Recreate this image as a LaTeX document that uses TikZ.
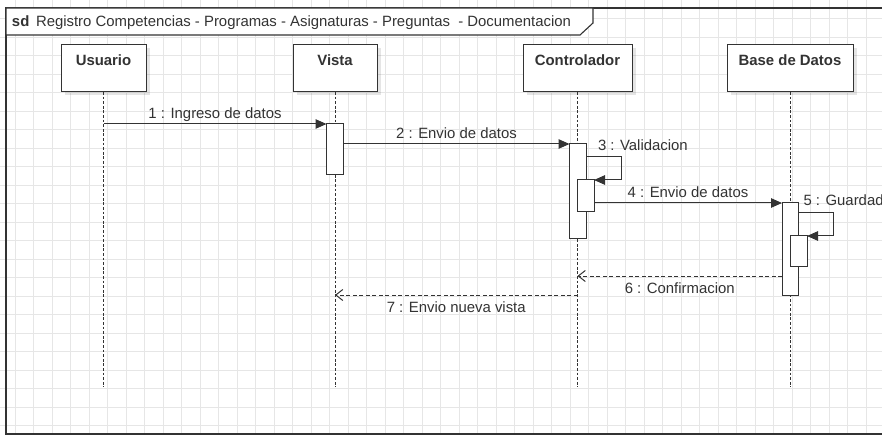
\documentclass[tikz,border=0pt]{standalone}
\usepackage{fontspec}
\setmainfont{Liberation Sans}
\usetikzlibrary{arrows.meta,shadows,calc}

\definecolor{ink}{HTML}{333333}
\definecolor{gridline}{HTML}{E6E6E6}

\begin{document}
\begin{tikzpicture}[x=1pt,y=-1pt,
  font=\fontsize{14.9}{17}\selectfont,
  every node/.style={inner sep=0pt, outer sep=0pt, text=ink},
  gridstroke/.style={draw=gridline, line width=0.9pt},
  frame/.style={draw=ink, line width=1.1pt},
  head/.style={draw=ink, line width=1pt, fill=white, anchor=north west,
    minimum height=47pt, text height=20.5pt, text depth=26.5pt,
    font=\fontsize{14.9}{17}\selectfont\bfseries,
    drop shadow={shadow xshift=3.5pt, shadow yshift=-3.5pt, fill=black, opacity=0.10}},
  lifeline/.style={draw=ink, line width=1pt, dash pattern=on 2.8pt off 1.8pt},
  act/.style={draw=ink, line width=1pt, fill=white, anchor=north west, minimum width=16.5pt},
  msg/.style={draw=ink, line width=1pt, -{Triangle[length=11pt,width=9.5pt]}},
  ret/.style={draw=ink, line width=1pt, dash pattern=on 4pt off 2.5pt,
    -{Straight Barb[length=7pt,width=11pt,line width=1pt]}},
  above label/.style={anchor=base, yshift=5.3pt},
  below label/.style={anchor=base, yshift=-17.3pt},
]
\useasboundingbox (0,0) rectangle (882,435);
\clip (0,0) rectangle (882,435);

% background grid
\foreach \i in {0,...,47}
  \draw[gridstroke] ({15.3+18.5*\i},0) -- ++(0,435);
\foreach \j in {1,...,23}
  \draw[gridstroke] (0,{18.5*\j}) -- ++(882,0);

% interaction frame with its name tab
\draw[frame] (6,8) rectangle (900,434);
\draw[frame, fill=white] (6,8) -- (593,8) -- (593,23) -- (580,35) -- (6,35) -- cycle;
\node[anchor=base west, font=\fontsize{14.9}{17}\selectfont\bfseries] (sd) at (12,27) {sd};
\node[anchor=base west] (title) at (36,27)
  {Registro Competencias - Programas - Asignaturas - Preguntas\ \ - Documentacion};

% participants
\node[head, minimum width=85pt]  (usuario) at (61,45)  {Usuario};
\node[head, minimum width=84pt]  (vista)   at (293,45) {Vista};
\node[head, minimum width=109pt] (ctrl)    at (523,45) {Controlador};
\node[head, minimum width=126pt] (bd)      at (727,45) {Base de Datos};

% lifelines
\draw[lifeline] (usuario.south) -- ++(0,295);
\draw[lifeline] (vista.south)   -- ++(0,295);
\draw[lifeline] (ctrl.south)    -- ++(0,295);
\draw[lifeline] (bd.south)      -- ++(0,295);

% activation bars
\node[act, minimum width=17pt, minimum height=51pt] (av)  at (326.5,124) {};
\node[act, minimum height=95pt]                     (ac)  at (569.5,144) {};
\node[act, minimum height=32pt]                     (ac2) at (577.5,180) {};
\node[act, minimum height=92pt]                     (ab)  at (782,203)   {};
\node[act, minimum height=31pt]                     (ab2) at (790.5,236) {};

% 1 : user enters data
\draw[msg] (usuario.south |- av.north west) -- (av.north west)
  node[midway, above label] {1 : Ingreso de datos};

% 2 : view forwards data
\draw[msg] (av.east |- ac.north west) -- (ac.north west)
  node[midway, above label] {2 : Envio de datos};

% 3 : controller validates (self call)
\coordinate (s3) at ($(ac.north east)+(0,13)$);
\draw[msg] (s3) -- ++(35,0) |- (ac2.north east);
\node[anchor=base west] (l3) at ($(ac.north east)+(12,6.3)$) {3 : Validacion};

% 4 : controller sends data to the database
\draw[msg] (ac2.east |- ab.north west) -- (ab.north west)
  node[midway, above label] {4 : Envio de datos};

% 5 : database stores (self call)
\coordinate (s5) at ($(ab.north east)+(0,10)$);
\draw[msg] (s5) -- ++(35,0) |- (ab2.north east);
\node[anchor=base west] (l5) at ($(ab.north east)+(5,2.3)$) {5 : Guardad};

% 6 : confirmation back to the controller
\coordinate (r6) at ($(ab.north west)+(0,73)$);
\draw[ret] (r6) -- (ctrl.south |- r6)
  node[midway, below label] {6 : Confirmacion};

% 7 : new view sent back
\coordinate (r7) at (ctrl.south |- 0,295);
\draw[ret] (r7) -- (vista.south |- r7)
  node[midway, below label] {7 : Envio nueva vista};
\end{tikzpicture}
\end{document}
